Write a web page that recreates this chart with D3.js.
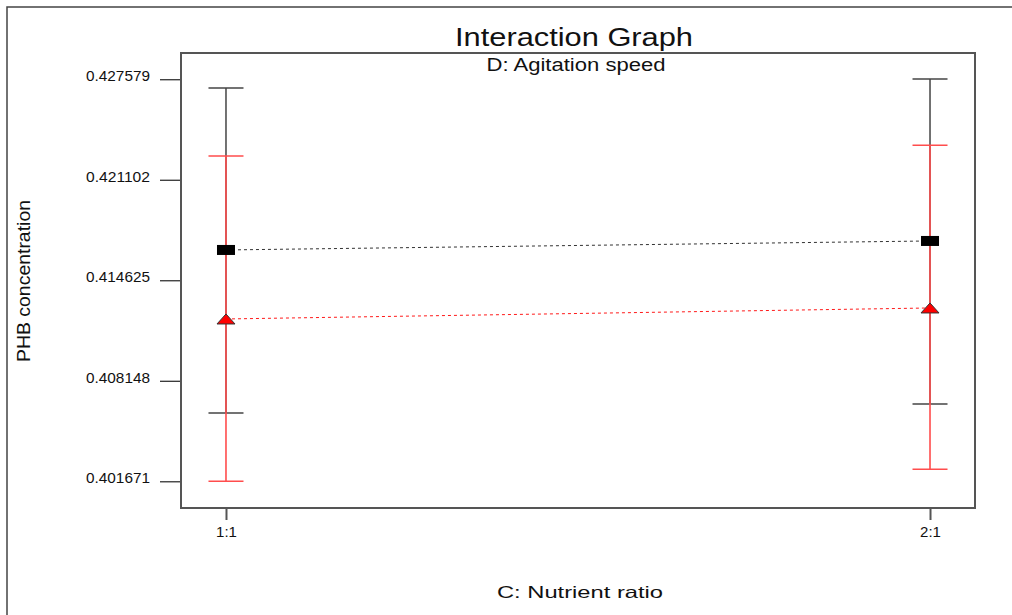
<!DOCTYPE html>
<html><head><meta charset="utf-8">
<script src="https://cdn.jsdelivr.net/npm/d3@7"></script>
<style>body{margin:0;background:#fff}svg{display:block}text{font-family:"Liberation Sans",Arial,sans-serif;fill:#111}</style>
</head><body><svg id="c" width="1012" height="615"></svg>
<script>
const categories = ["1:1", "2:1"];
const yTicks = [0.401671, 0.408148, 0.414625, 0.421102, 0.427579];
// D+ (black squares)
const highMean = [0.416578, 0.417158];
const highLow  = [0.406073, 0.406653];
const highUp   = [0.427018, 0.427599];
// D- (red triangles)
const lowMean = [0.412131, 0.412840];
const lowLow  = [0.401671, 0.402444];
const lowUp   = [0.422636, 0.423326];

const svg = d3.select("#c");
const L = 181, R = 975, T = 53, B = 508;
const x = d3.scalePoint().domain(categories).range([L, R]).padding(0.0639);
const y = d3.scaleLinear().domain([0.39995, 0.42927]).range([B, T]);

// outer frame
svg.append("rect").attr("x", 7).attr("y", 7).attr("width", 1020).attr("height", 620)
  .attr("fill", "none").attr("stroke", "#444").attr("stroke-width", 1.5);

// axes
const yAxis = d3.axisLeft(y).tickValues(yTicks).tickSize(21).tickPadding(10).tickFormat(d3.format(".6f"));
const gy = svg.append("g").attr("transform", `translate(${L},0)`).call(yAxis);
gy.select(".domain").remove();
gy.selectAll(".tick line").attr("stroke", "#222").attr("stroke-width", 1.2);
gy.selectAll(".tick text").style("font-size", "15px").attr("dy", "0.1em")
  .attr("textLength", 64).attr("lengthAdjust", "spacingAndGlyphs");

const xAxis = d3.axisBottom(x).tickSize(12).tickPadding(6);
const gx = svg.append("g").attr("transform", `translate(0,${B})`).call(xAxis);
gx.select(".domain").remove();
gx.selectAll(".tick line").attr("stroke", "#555").attr("stroke-width", 2);
gx.selectAll(".tick text").style("font-size", "15px");

// plot frame
svg.append("rect").attr("x", L).attr("y", T).attr("width", R - L).attr("height", B - T)
  .attr("fill", "none").attr("stroke", "#555").attr("stroke-width", 2);

function errbars(mean, lo, up, color, w) {
  const g = svg.append("g").attr("stroke", color).attr("stroke-width", w);
  categories.forEach((c, i) => {
    const cx = x(c);
    g.append("line").attr("x1", cx).attr("x2", cx).attr("y1", y(up[i])).attr("y2", y(lo[i]));
    g.append("line").attr("x1", cx - 17.5).attr("x2", cx + 17.5).attr("y1", y(up[i])).attr("y2", y(up[i]));
    g.append("line").attr("x1", cx - 17.5).attr("x2", cx + 17.5).attr("y1", y(lo[i])).attr("y2", y(lo[i]));
  });
}
errbars(highMean, highLow, highUp, "#444", 1.5);
errbars(lowMean, lowLow, lowUp, "#ff4d4d", 1.6);

// dashed lines
const line = d3.line().x((d, i) => x(categories[i])).y(d => y(d));
svg.append("path").datum(highMean).attr("d", line).attr("fill", "none")
  .attr("stroke", "#333").attr("stroke-width", 1).attr("stroke-dasharray", "3,3");
svg.append("path").datum(lowMean).attr("d", line).attr("fill", "none")
  .attr("stroke", "#ff1a1a").attr("stroke-width", 1).attr("stroke-dasharray", "3,3");

// markers
categories.forEach((c, i) => {
  svg.append("rect").attr("x", x(c) - 9).attr("y", y(highMean[i]) - 5)
    .attr("width", 18).attr("height", 10).attr("fill", "#000");
  const cx = x(c), cy = y(lowMean[i]);
  svg.append("path").attr("d", `M${cx - 9},${cy + 5}L${cx + 9},${cy + 5}L${cx},${cy - 5}Z`)
    .attr("fill", "#ff0000").attr("stroke", "#333").attr("stroke-width", 1);
});

// titles
function label(x0, y0, size, len, txt, rot) {
  const t = svg.append("text").attr("text-anchor", "middle").style("font-size", size + "px")
    .attr("textLength", len).attr("lengthAdjust", "spacingAndGlyphs").text(txt);
  if (rot) t.attr("transform", `translate(${x0},${y0}) rotate(-90)`);
  else t.attr("x", x0).attr("y", y0);
}
label(574, 46, 25, 238, "Interaction Graph");
label(576, 71, 17.5, 179, "D: Agitation speed");
label(30, 281, 18, 162, "PHB concentration", true);
label(580, 598, 16.5, 166, "C: Nutrient ratio");
</script></body></html>
